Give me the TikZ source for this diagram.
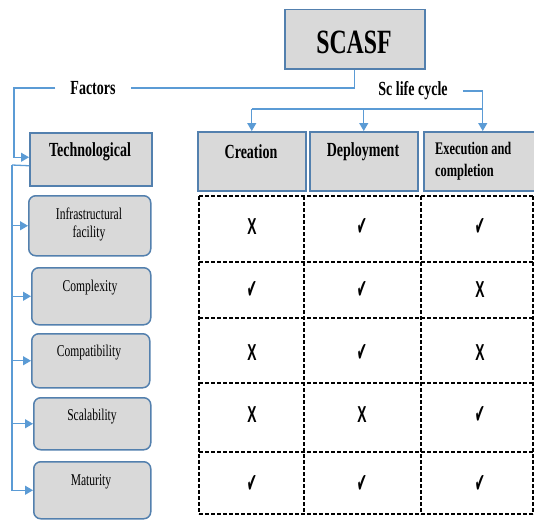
\documentclass[tikz,border=0pt]{standalone}
\usepackage{fontspec}
\setmainfont{Liberation Serif}
\newfontfamily\nserif[FakeStretch=0.7]{Liberation Serif}
\newfontfamily\nsans[FakeStretch=0.6]{Liberation Sans}
\newfontfamily\cksym[FakeStretch=0.45]{DejaVu Sans}
\usetikzlibrary{arrows.meta}
\definecolor{boxfill}{HTML}{D9D9D9}
\definecolor{boxline}{HTML}{5380AE}
\definecolor{linkblue}{HTML}{5B9BD5}
\begin{document}
\begin{tikzpicture}[x=1pt,y=-1pt,
  box/.style={draw=boxline, fill=boxfill, line width=1.5pt, inner sep=0pt, anchor=north west},
  rbox/.style={box, rounded corners=7pt},
  head/.style={font=\nserif\bfseries\fontsize{20}{22}\selectfont, inner sep=0pt},
  branch/.style={head, inner xsep=15pt},
  subtxt/.style={font=\nserif\fontsize{16.5}{18}\selectfont, inner sep=0pt, align=center},
  link/.style={draw=linkblue, line width=1.3pt},
  arr/.style={link, -{Triangle[length=8pt,width=9pt]}},
  gridline/.style={draw=black, line width=1.6pt, dash pattern=on 4pt off 2pt},
  cross/.style={font=\nsans\bfseries\fontsize{23}{23}\selectfont, inner sep=0pt},
  tick/.style={font=\cksym\fontsize{27}{27}\selectfont, inner sep=0pt}
]
\useasboundingbox (0,0) rectangle (534,519);

% top box
\node[box, minimum width=140pt, minimum height=59pt] (scasf) at (284,9) {};
\node[font=\nserif\bfseries\fontsize{34}{36}\selectfont, inner sep=0pt] (scasf-t) at (354,42) {SCASF};

% branch labels
\node[branch] (factors) at (93,88) {Factors};
\node[branch] (life) at (413,91) {Sc life cycle};

% factor side
\node[box, minimum width=122pt, minimum height=53pt] (tech) at (29,132) {};
\node[head] (tech-t) at (90,152) {Technological};

\node[rbox, minimum width=122pt, minimum height=60pt] (infra) at (28,195) {};
\node[subtxt] (infra-t) at (89,224) {Infrastructural\\facility};
\node[rbox, minimum width=119pt, minimum height=57pt] (cplx) at (31,267) {};
\node[subtxt] (cplx-t) at (90,288) {Complexity};
\node[rbox, minimum width=118pt, minimum height=54pt] (compat) at (31,333) {};
\node[subtxt] (compat-t) at (89,353) {Compatibility};
\node[rbox, minimum width=117pt, minimum height=52pt] (scal) at (33,397) {};
\node[subtxt] (scal-t) at (92,417) {Scalability};
\node[rbox, minimum width=117pt, minimum height=57pt] (matur) at (33,461) {};
\node[subtxt] (matur-t) at (91,482) {Maturity};

% life cycle headers
\node[box, minimum width=108pt, minimum height=59pt] (creation) at (197,131) {};
\node[head] (creation-t) at (251,152) {Creation};
\node[box, minimum width=108pt, minimum height=59pt] (deploy) at (309,131) {};
\node[head] (deploy-t) at (363,152) {Deployment};
\node[box, minimum width=118pt, minimum height=59pt] (exec) at (423,131) {};
\node[head, font=\nserif\bfseries\fontsize{17.7}{22}\selectfont, align=left, anchor=west] (exec-t) at (435,161) {Execution and\\completion};

% connectors
\draw[link] (scasf.south) |- (factors.east);
\coordinate (fcorner) at (14,88);
\draw[arr] (factors.west) -- (fcorner) |- ([yshift=2pt]tech.west);
\coordinate (sp) at (12,165);
\draw[link] ([yshift=-6.5pt]tech.west) -- (sp);
\foreach \b in {infra,cplx,compat,scal,matur}
  \draw[arr] (sp) |- (\b.west);

\draw[arr] (life.east) -| (exec.north);
\coordinate (barL) at (creation.north |- 0,109);
\coordinate (barR) at (exec.north |- 0,109);
\draw[link] (barL) -- (barR);
\draw[arr] (barL) -- (creation.north);
\draw[arr] (deploy.north |- barL) -- (deploy.north);

% comparison grid
\foreach \x in {199,304,421,533}
  \draw[gridline] (\x,196) -- (\x,514);
\foreach \y in {196,262,318,383,452,514}
  \draw[gridline] (199,\y) -- (533,\y);

% marks: row by row (Creation, Deployment, Execution)
\newcommand{\nok}{X}
\newcommand{\yes}{✔}
\foreach \r/\y/\a/\b/\c in {1/227/0/1/1, 2/290/1/1/0, 3/353/0/1/0, 4/415/0/0/1, 5/484/1/1/1}{
  \foreach \col/\x/\v in {1/252/\a, 2/362/\b, 3/480/\c}{
    \ifnum\v=1
      \node[tick] (m\r\col) at (\x,\y) {\yes};
    \else
      \node[cross] (m\r\col) at (\x,\y) {\nok};
    \fi
  }
}
\end{tikzpicture}
\end{document}
